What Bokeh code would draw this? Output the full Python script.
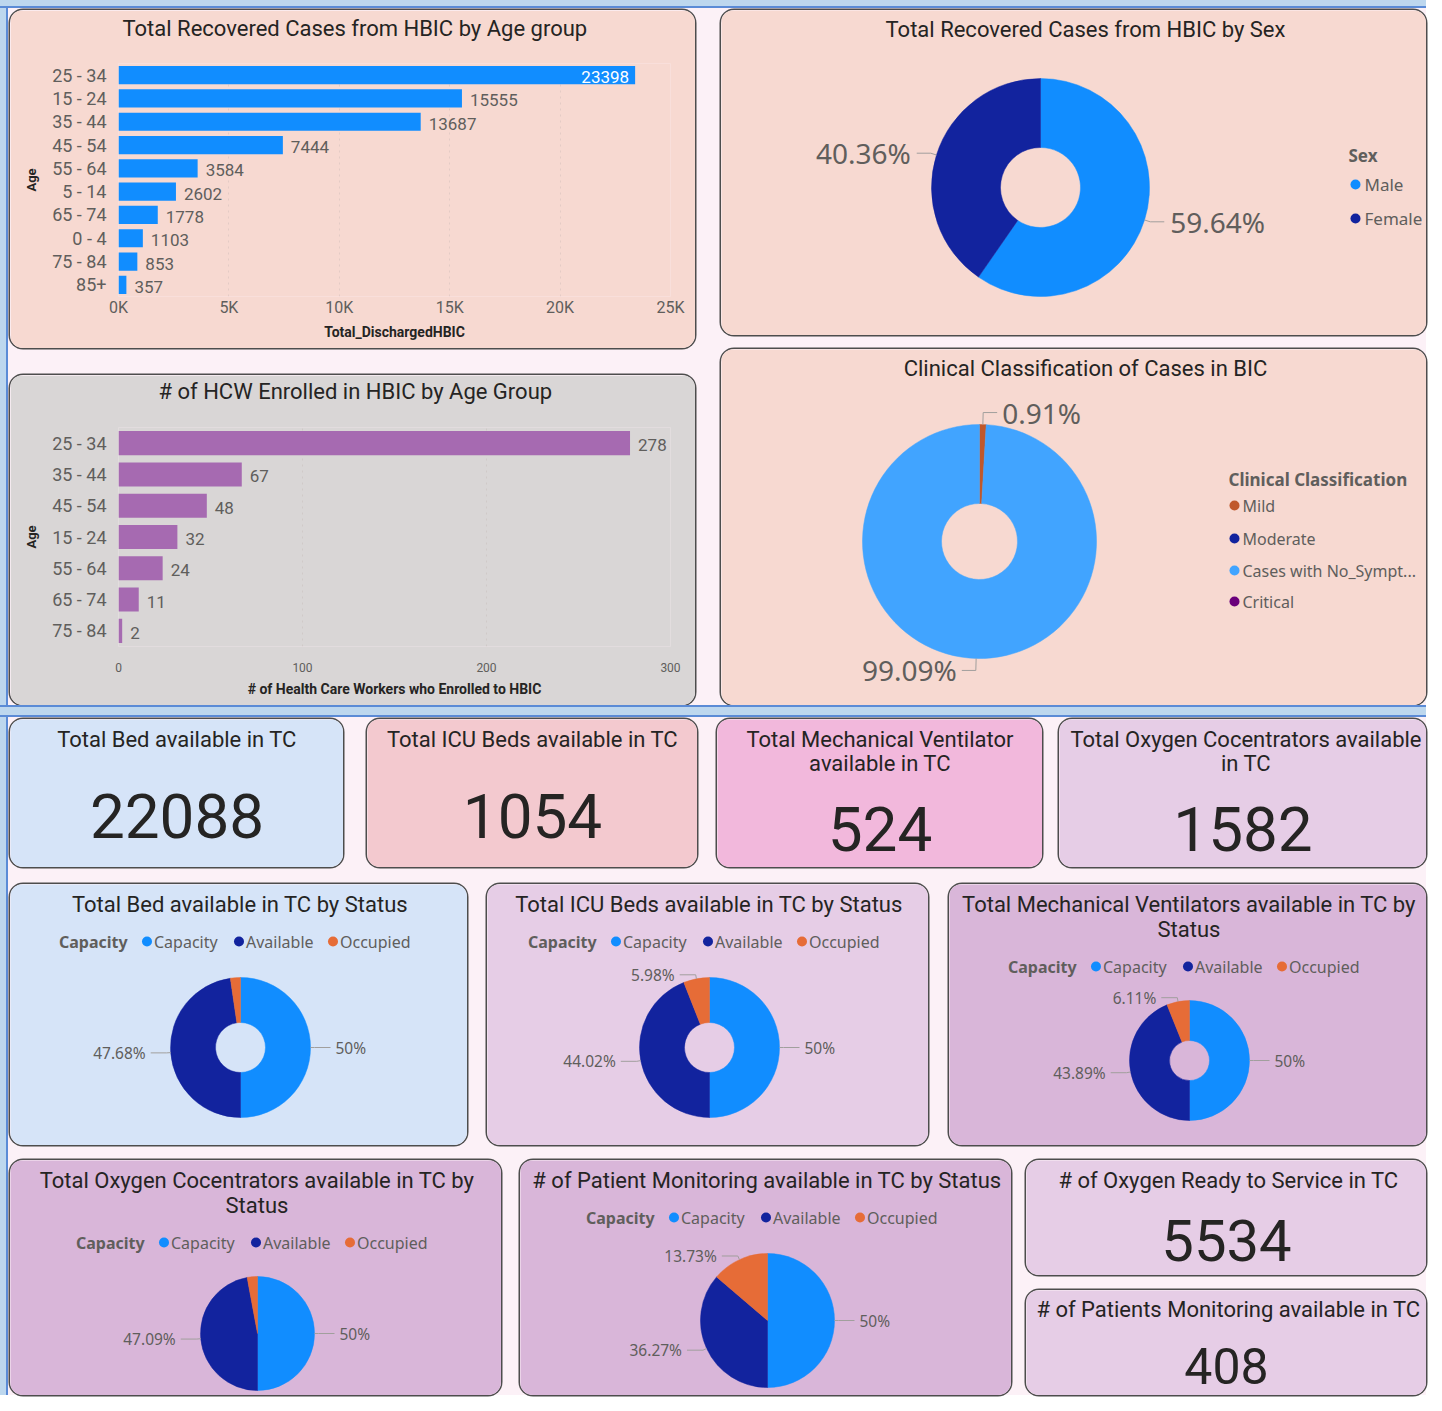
import numpy as np
from bokeh.plotting import figure
from bokeh.models import FactorRange, Range1d, FixedTicker, Spacer, ColumnDataSource, CustomJSTickFormatter, Title
from bokeh.layouts import row, column
from bokeh.core.properties import value
from bokeh.embed import file_html
from bokeh.resources import INLINE

# ---------------- data ----------------
age_groups = ["25 - 34", "15 - 24", "35 - 44", "45 - 54", "55 - 64", "5 - 14", "65 - 74", "0 - 4", "75 - 84", "85+"]
recovered_cases = [23398, 15555, 13687, 7444, 3584, 2602, 1778, 1103, 853, 357]
recovered_ticks = [0, 5000, 10000, 15000, 20000, 25000]

hcw_age_groups = ["25 - 34", "35 - 44", "45 - 54", "15 - 24", "55 - 64", "65 - 74", "75 - 84"]
hcw_enrolled = [278, 67, 48, 32, 24, 11, 2]
hcw_ticks = [0, 100, 200, 300]

sex_labels = ["Male", "Female"]
sex_share = [59.64, 40.36]

clinical_labels = ["Mild", "Moderate", "Cases with No_Sympt...", "Critical"]
clinical_share = [0.91, 0.0, 99.09, 0.0]

status_labels = ["Capacity", "Available", "Occupied"]
bed_status = [22088, 21063, 1025]
icu_status = [1054, 928, 126]
vent_status = [524, 460, 64]
oxy_status = [1582, 1490, 92]
monitor_status = [408, 296, 112]

kpi_titles = [["Total Bed available in TC"], ["Total ICU Beds available in TC"],
              ["Total Mechanical Ventilator", "available in TC"],
              ["Total Oxygen Cocentrators available", "in TC"]]
kpi_values = [22088, 1054, 524, 1582]
oxygen_ready_title = "# of Oxygen Ready to Service in TC"
oxygen_ready_value = 5534
patients_monitoring_title = "# of Patients Monitoring available in TC"
patients_monitoring_value = 408

# ---------------- styles ----------------
TFONT = "Roboto"
LFONT = "Noto Sans"
DARK = "#252423"
GRAY = "#605E5C"
PEACH = "#F7D9D1"
GREYBG = "#D9D6D6"
LBLUE = "#D6E4F8"
LAV = "#E6CDE6"
LAV2 = "#D9B6D9"
PAGE = "#FCF1F7"
STRIP = "#BDD7EE"
LINE = "#5B8BD6"
BLUE = "#118DFF"
NAVY = "#12239E"
ORANGE = "#E66C37"
status_colors = [BLUE, NAVY, ORANGE]
sex_colors = [BLUE, NAVY]
clinical_colors = ["#C0582B", NAVY, "#41A4FF", "#6B007B"]
TITLE_SIZE = 22


def style_panel(p):
    p.styles = {"border-radius": "13px", "overflow": "hidden",
                "box-shadow": "0 0 0 1.5px #4d4d4d"}


def canvas_fig(w, h, bg):
    p = figure(width=w, height=h, output_backend="svg", toolbar_location=None,
               x_range=Range1d(0, w), y_range=Range1d(0, h), min_border=0,
               title=None, x_axis_type=None, y_axis_type=None,
               background_fill_color=bg, border_fill_color=bg, outline_line_color=None)
    style_panel(p)
    return p


def txt(p, h, x, y_top, s, size, color=DARK, align="center", bold=False, font=TFONT):
    p.text(x=[x], y=[h - y_top], text=[s], text_font=value(font),
           text_font_size=value(f"{size}px"), text_color=color, text_align=align,
           text_baseline="middle", text_font_style="bold" if bold else "normal")


def pct_text(v):
    return f"{v:.2f}".rstrip("0").rstrip(".") + "%"


def pie(p, h, cx, cy_top, r_out, r_in, values, colors, lsize, d, L, gap, min_pct):
    cy = h - cy_top
    vals = np.array(values, dtype=float)
    fr = vals / vals.sum()
    cum = np.concatenate([[0.0], np.cumsum(fr)])
    start = np.pi / 2 - 2 * np.pi * cum[:-1]
    end = np.pi / 2 - 2 * np.pi * cum[1:]
    keep = fr > 0
    src = ColumnDataSource(dict(start=start[keep], end=end[keep],
                                color=[c for c, k in zip(colors, keep) if k]))
    if r_in > 0:
        p.annular_wedge(x=cx, y=cy, inner_radius=r_in, outer_radius=r_out,
                        start_angle="start", end_angle="end", direction="clock",
                        fill_color="color", line_color="color", line_width=0.5, source=src)
    else:
        p.wedge(x=cx, y=cy, radius=r_out, start_angle="start", end_angle="end",
                direction="clock", fill_color="color", line_color="color",
                line_width=0.5, source=src)
    xs, ys = [], []
    lx, ly, lt, la = [], [], [], []
    for f, s, e in zip(fr, start, end):
        if f * 100 < min_pct:
            continue
        m = (s + e) / 2
        ex, ey = cx + r_out * np.cos(m), cy + r_out * np.sin(m)
        bx, by = cx + (r_out + d) * np.cos(m), cy + (r_out + d) * np.sin(m)
        side = 1 if np.cos(m) >= 0 else -1
        fx = bx + side * L
        xs.append([ex, bx, fx])
        ys.append([ey, by, by])
        lx.append(fx + side * gap)
        ly.append(by)
        lt.append(pct_text(f * 100))
        la.append("left" if side > 0 else "right")
    if xs:
        p.multi_line(xs=xs, ys=ys, line_color="#A19F9D", line_width=1)
        lsrc = ColumnDataSource(dict(x=lx, y=ly, t=lt, a=la))
        p.text(x="x", y="y", text="t", text_align="a", source=lsrc,
               text_baseline="middle", text_font=value(LFONT),
               text_font_size=value(f"{lsize}px"), text_color=GRAY)


def status_legend(p, h, w, y_top, labels, colors):
    x0 = w / 2 - 180
    txt(p, h, x0, y_top, "Capacity", 16, color=GRAY, align="left", bold=True, font=LFONT)
    offs = [88, 180, 274]
    for off, lab, col in zip(offs, labels, colors):
        p.scatter(x=[x0 + off], y=[h - y_top], size=10, fill_color=col, line_color=None)
        txt(p, h, x0 + off + 7, y_top, lab, 16, color=GRAY, align="left", font=LFONT)


def status_panel(w, h, bg, titles, legend_y, cy, r_out, r_in, values):
    p = canvas_fig(w, h, bg)
    for i, t in enumerate(titles):
        txt(p, h, w / 2 + 1, 20 + 25 * i, t, TITLE_SIZE)
    status_legend(p, h, w, legend_y, status_labels, status_colors)
    pie(p, h, w / 2 + 1.5, cy, r_out, r_in, values, status_colors, 15.5, 4, 16, 5, 4)
    return p


def kpi(w, h, bg, titles, title_y, val, val_y, size, title_dx=0):
    p = canvas_fig(w, h, bg)
    for i, t in enumerate(titles):
        txt(p, h, w / 2 + title_dx, title_y + 24 * i, t, TITLE_SIZE)
    txt(p, h, w / 2, val_y, str(val), size)
    return p


def bar_panel(w, h, bg, title, title_off, title_standoff, blank_standoff, cats, vals, ticks,
              fmt, xlabel, color, borders, bar_h, tick_size, tick_standoff, label_standoff):
    left, right, top, bottom = borders
    p = figure(width=w, height=h, output_backend="svg", toolbar_location=None,
               y_range=FactorRange(factors=list(reversed(cats))),
               x_range=Range1d(ticks[0], ticks[-1]), title=title,
               background_fill_color=bg, border_fill_color=bg, outline_line_color=None,
               min_border_left=left, min_border_right=right,
               min_border_top=top, min_border_bottom=bottom)
    style_panel(p)
    p.title.align = "left"
    p.title.text_font = TFONT
    p.title.text_font_size = f"{TITLE_SIZE}px"
    p.title.text_font_style = "normal"
    p.title.text_color = DARK
    p.title.offset = title_off
    p.title.standoff = title_standoff
    p.add_layout(Title(text="\u00a0", text_font_size="2px", standoff=blank_standoff), "above")
    p.hbar(y=cats, left=0, right=vals, height=bar_h, fill_color=color, line_color=None)
    xmax = ticks[-1]
    frame_w = w - left - right
    inside = [v / xmax * frame_w + 8 + 9 * len(str(v)) > frame_w for v in vals]
    out_c = [c for c, i in zip(cats, inside) if not i]
    out_v = [v for v, i in zip(vals, inside) if not i]
    in_c = [c for c, i in zip(cats, inside) if i]
    in_v = [v for v, i in zip(vals, inside) if i]
    p.text(x=out_v, y=out_c, text=[str(v) for v in out_v], x_offset=8, y_offset=2,
           text_align="left", text_baseline="middle", text_font=value(TFONT),
           text_font_size=value("17px"), text_color=GRAY)
    if in_v:
        p.text(x=in_v, y=in_c, text=[str(v) for v in in_v], x_offset=-6, y_offset=2,
               text_align="right", text_baseline="middle", text_font=value(TFONT),
               text_font_size=value("17px"), text_color="white")
    xa = p.xaxis[0]
    xa.ticker = FixedTicker(ticks=ticks)
    if fmt:
        xa.formatter = CustomJSTickFormatter(code=fmt)
    xa.axis_line_color = None
    xa.major_tick_line_color = None
    xa.minor_tick_line_color = None
    xa.major_tick_out = 0
    xa.major_tick_in = 0
    xa.minor_tick_out = 0
    xa.major_label_text_font = TFONT
    xa.major_label_text_font_size = f"{tick_size}px"
    xa.major_label_text_color = GRAY
    xa.major_label_standoff = tick_standoff
    xa.axis_label = xlabel
    xa.axis_label_text_font = TFONT
    xa.axis_label_text_font_size = "14px"
    xa.axis_label_text_font_style = "bold"
    xa.axis_label_text_color = DARK
    xa.axis_label_standoff = label_standoff
    ya = p.yaxis[0]
    ya.axis_line_color = None
    ya.major_tick_line_color = None
    ya.minor_tick_line_color = None
    ya.major_label_text_font = TFONT
    ya.major_label_text_font_size = "18px"
    ya.major_label_text_color = GRAY
    ya.major_label_standoff = 6
    ya.axis_label = "Age"
    ya.axis_label_text_font = TFONT
    ya.axis_label_text_font_size = "13px"
    ya.axis_label_text_font_style = "bold"
    ya.axis_label_text_color = DARK
    ya.axis_label_standoff = 10
    p.ygrid.visible = False
    p.xgrid.grid_line_color = "#BFB3B0"
    p.xgrid.grid_line_alpha = 0.35
    p.xgrid.grid_line_dash = "dotted"
    return p


# ---------------- panels ----------------
p1 = bar_panel(685, 338, PEACH, "Total Recovered Cases from HBIC by Age group", 4, 6, 16,
               age_groups, recovered_cases, recovered_ticks,
               "return (tick / 1000) + 'K';", "Total_DischargedHBIC", BLUE,
               (108, 25, 53, 52), 0.78, 16, 1, 4)
p3 = bar_panel(685, 330, GREYBG, "# of HCW Enrolled in HBIC by Age Group", 40, 2, 19,
               hcw_age_groups, hcw_enrolled, hcw_ticks, None,
               "# of Health Care Workers who Enrolled to HBIC", "#A66AB1",
               (108, 20, 52, 59), 0.77, 12, 16, 6)

# sex donut
W2, H2 = 705, 325
p2 = canvas_fig(W2, H2, PEACH)
txt(p2, H2, 364, 19, "Total Recovered Cases from HBIC by Sex", TITLE_SIZE)
pie(p2, H2, 319, 177, 109, 40, sex_share, sex_colors, 28, 6, 14, 6, 0.01)
txt(p2, H2, 627, 145, "Sex", 17, color=GRAY, align="left", bold=True, font=LFONT)
for i, (lab, col) in enumerate(zip(sex_labels, sex_colors)):
    p2.scatter(x=[634], y=[H2 - (174 + 34 * i)], size=10, fill_color=col, line_color=None)
    txt(p2, H2, 643, 174 + 34 * i, lab, 17, color=GRAY, align="left", font=LFONT)

# clinical donut
W4, H4 = 705, 356
p4 = canvas_fig(W4, H4, PEACH)
txt(p4, H4, 364, 19, "Clinical Classification of Cases in BIC", TITLE_SIZE)
pie(p4, H4, 258, 192, 117, 38, clinical_share, clinical_colors, 28, 12, 14, 5, 0.01)
txt(p4, H4, 507, 130, "Clinical Classification", 17, color=GRAY, align="left", bold=True, font=LFONT)
for yy, lab, col in zip([156, 189, 221, 252], clinical_labels, clinical_colors):
    p4.scatter(x=[513], y=[H4 - yy], size=10, fill_color=col, line_color=None)
    txt(p4, H4, 521, yy, lab, 16, color=GRAY, align="left", font=LFONT)

# KPI cards
k1 = kpi(333, 148, LBLUE, kpi_titles[0], 20, kpi_values[0], 96, 62)
k2 = kpi(330, 148, "#F3C9CF", kpi_titles[1], 20, kpi_values[1], 96, 62)
k3 = kpi(325, 148, "#F2B8DC", kpi_titles[2], 20, kpi_values[2], 109, 62)
k4 = kpi(367, 148, LAV, kpi_titles[3], 20, kpi_values[3], 109, 62, title_dx=3)
k5 = kpi(400, 115, LAV, [oxygen_ready_title], 20, oxygen_ready_value, 80, 58, title_dx=2)
k6 = kpi(400, 105, LAV, [patients_monitoring_title], 19, patients_monitoring_value, 75, 50, title_dx=2)

# status donuts / pies
s1 = status_panel(457, 261, LBLUE, ["Total Bed available in TC by Status"], 57, 163, 70, 25, bed_status)
s2 = status_panel(441, 261, LAV, ["Total ICU Beds available in TC by Status"], 57, 163, 70, 25, icu_status)
s3 = status_panel(477, 261, LAV2, ["Total Mechanical Ventilators available in TC by", "Status"], 82, 176, 60, 20, vent_status)
s4 = status_panel(491, 235, LAV2, ["Total Oxygen Cocentrators available in TC by", "Status"], 82, 173, 57, 0, oxy_status)
s5 = status_panel(491, 235, LAV2, ["# of Patient Monitoring available in TC by Status"], 57, 160, 67, 0, monitor_status)


# ---------------- layout ----------------
def sp(w, h, color=None, shadow=None):
    s = Spacer(width=w, height=h)
    st = {}
    if color:
        st["background-color"] = color
    if shadow:
        st["box-shadow"] = shadow
    if st:
        s.styles = st
    return s


def strip(h):
    return sp(8, h, STRIP, f"inset -2px 0 0 {LINE}")


top_band = sp(1426, 8, STRIP, f"inset 0 -2px 0 {LINE}")
colL = column(sp(685, 2), p1, sp(685, 27), p3)
colR = column(sp(705, 2), p2, sp(705, 14), p4)
top = row(strip(697), sp(2, 697), colL, sp(26, 697), colR)
band = sp(1426, 12, STRIP, f"inset 0 2px 0 {LINE}, inset 0 -2px 0 {LINE}")
row3 = row(k1, sp(24, 148), k2, sp(20, 148), k3, sp(17, 148), k4)
row4 = row(s1, sp(20, 261), s2, sp(21, 261), s3)
row5 = row(s4, sp(19, 235), s5, sp(15, 235), column(k5, sp(400, 15), k6))
bottom_inner = column(sp(1416, 2), row3, sp(1416, 17), row4, sp(1416, 15), row5)
bottom = row(strip(678), sp(2, 678), bottom_inner)
root = column(top_band, top, band, bottom)
root.styles = {"background-color": PAGE}

open("out.html", "w").write(file_html(root, INLINE))
